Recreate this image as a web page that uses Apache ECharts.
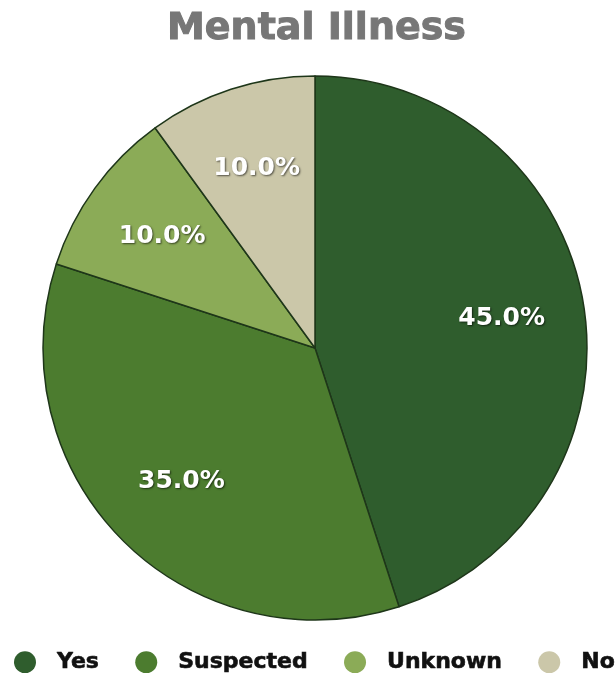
<!DOCTYPE html>
<html>
<head>
<meta charset="utf-8">
<script src="https://cdn.jsdelivr.net/npm/echarts@6/dist/echarts.min.js"></script>
<style>
  html, body { margin: 0; padding: 0; background: #fff; }
  #chart { width: 615px; height: 673px; }
</style>
</head>
<body>
<div id="chart"></div>
<script>
// Share of cases by mental illness status
const categories = ['Yes', 'Suspected', 'Unknown', 'No'];
const values = [45, 35, 10, 10];
const colors = ['#2f5d2d', '#4c7c2f', '#8bab57', '#cbc7a9'];

const data = categories.map((name, i) => ({ name, value: values[i] }));

const chart = echarts.init(document.getElementById('chart'));
chart.setOption({
  animation: false,
  color: colors,
  title: {
    text: 'Mental Illness',
    left: 162,
    top: 5,
    textStyle: {
      fontFamily: 'DejaVu Sans',
      fontWeight: 'bold',
      fontSize: 38,
      color: '#777777',
      textBorderColor: '#777777',
      textBorderWidth: 1
    }
  },
  legend: {
    data: categories,
    left: 9,
    top: 646,
    width: 800,
    icon: 'circle',
    itemWidth: 22,
    itemHeight: 22,
    itemGap: 36,
    itemStyle: { borderWidth: 0 },
    textStyle: {
      fontFamily: 'DejaVu Sans',
      fontWeight: 'bold',
      fontSize: 22,
      color: '#111111',
      textBorderColor: '#111111',
      textBorderWidth: 0.6,
      padding: [0, 0, 0, 16]
    }
  },
  series: [
    {
      type: 'pie',
      center: [315, 348],
      radius: [0, 272],
      startAngle: 90,
      clockwise: true,
      data: data,
      label: { show: false },
      labelLine: { show: false },
      itemStyle: { borderColor: '#1e3619', borderWidth: 1.5 },
      emphasis: { disabled: true }
    },
    {
      // label ring: places percentage text about two thirds out from the centre
      type: 'pie',
      center: [315, 348],
      radius: [100, 272],
      startAngle: 90,
      clockwise: true,
      silent: true,
      data: data,
      itemStyle: { color: 'rgba(0,0,0,0)' },
      label: {
        show: true,
        position: 'inside',
        formatter: p => p.value.toFixed(1) + '%',
        fontFamily: 'DejaVu Sans',
        fontWeight: 'bold',
        fontSize: 25,
        color: '#ffffff',
        textShadowColor: 'rgba(0,0,0,0.6)',
        textShadowBlur: 2,
        textShadowOffsetX: 1,
        textShadowOffsetY: 1
      },
      labelLine: { show: false },
      emphasis: { disabled: true }
    }
  ]
});
</script>
</body>
</html>
